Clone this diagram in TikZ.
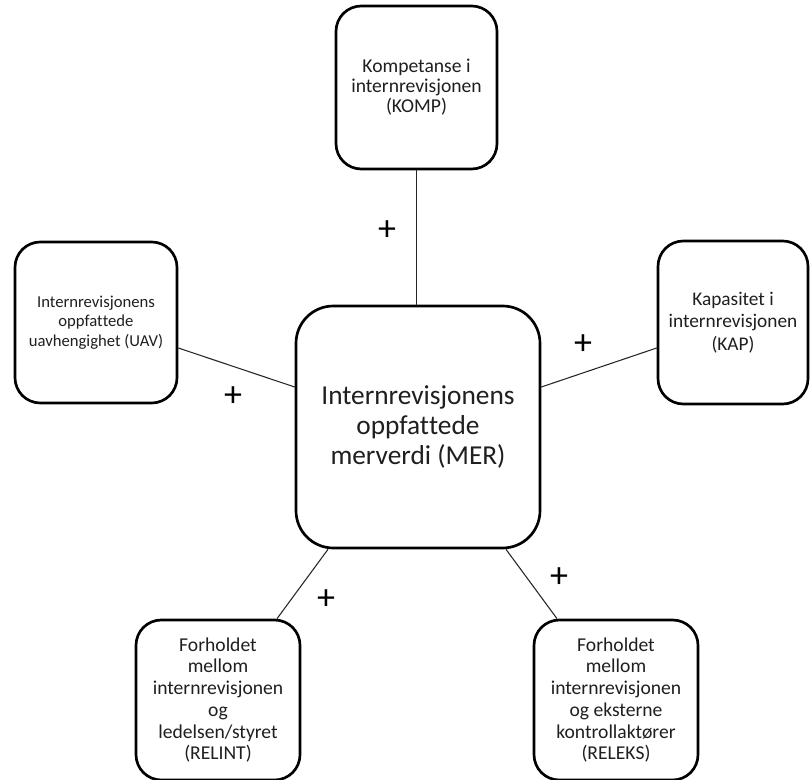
\documentclass[tikz,border=0pt]{standalone}
\usepackage{fontspec}
\setmainfont{Carlito}[Ligatures={NoCommon,NoRare,NoContextual}]
\usetikzlibrary{calc}
\newcommand{\nolig}{\kern0pt}
\begin{document}
\begin{tikzpicture}[x=0.75pt,y=-0.75pt,
  box/.style={draw=black,line width=2pt,rounded corners=19pt,align=center,
    text=black!88,inner sep=0pt,font=\fontsize{14.7}{16.3}\selectfont},
  link/.style={draw=black!85,line width=0.8pt},
  plus/.style={text=black,inner sep=0pt,font=\fontsize{27}{27}\selectfont}]
\clip (0,0) rectangle (810,780);
\fill[white] (0,0) rectangle (810,780);
\node[box,minimum width=120.75pt,minimum height=122.25pt,font=\fontsize{14.7}{15}\selectfont] (komp) at (416.5,87.5)
  {Kompetanse i\\internrevisjonen\\(KOMP)};
\node[box,minimum width=121.5pt,minimum height=120.75pt,font=\fontsize{12.5}{14.8}\selectfont] (uav) at (96,322.5)
  {Internrevisjonens\\oppfat\nolig tede\\uavhengighet (UAV)};
\node[box,minimum width=112.5pt,minimum height=122.25pt,font=\fontsize{14.5}{16.8}\selectfont] (kap) at (733,322.5)
  {Kapasitet i\\internrevisjonen\\(KAP)};
\node[box,rounded corners=28pt,minimum width=183pt,minimum height=181.5pt,font=\fontsize{20.5}{22.7}\selectfont] (mer) at (418,427)
  {Internrevisjonens\\oppfat\nolig tede\\merverdi (MER)};
\node[box,minimum width=123pt,minimum height=120pt] (relint) at (218,700)
  {Forholdet\\mellom\\internrevisjonen\\og\\ledelsen/styret\\(RELINT)};
\node[box,minimum width=123pt,minimum height=120pt] (releks) at (616,700)
  {Forholdet\\mellom\\internrevisjonen\\og eksterne\\kontrollaktører\\(RELEKS)};
\draw[link] (komp.south) -- (komp.south |- mer.north);
\draw[link] ($(uav.east)+(0,25.5)$) -- ($(mer.west)+(0,-40)$);
\draw[link] ($(kap.west)+(0,25.5)$) -- ($(mer.east)+(0,-40)$);
\draw[link] ($(mer.south)+(-90,0)$) -- ($(relint.north)+(59,0)$);
\draw[link] ($(mer.south)+(88,0)$) -- ($(releks.north)+(-59,0)$);
\node[plus] (p1) at (387,231) {+};
\node[plus] (p2) at (233,397) {+};
\node[plus] (p3) at (583,345) {+};
\node[plus] (p4) at (326,600) {+};
\node[plus] (p5) at (559,578) {+};
\end{tikzpicture}
\end{document}
